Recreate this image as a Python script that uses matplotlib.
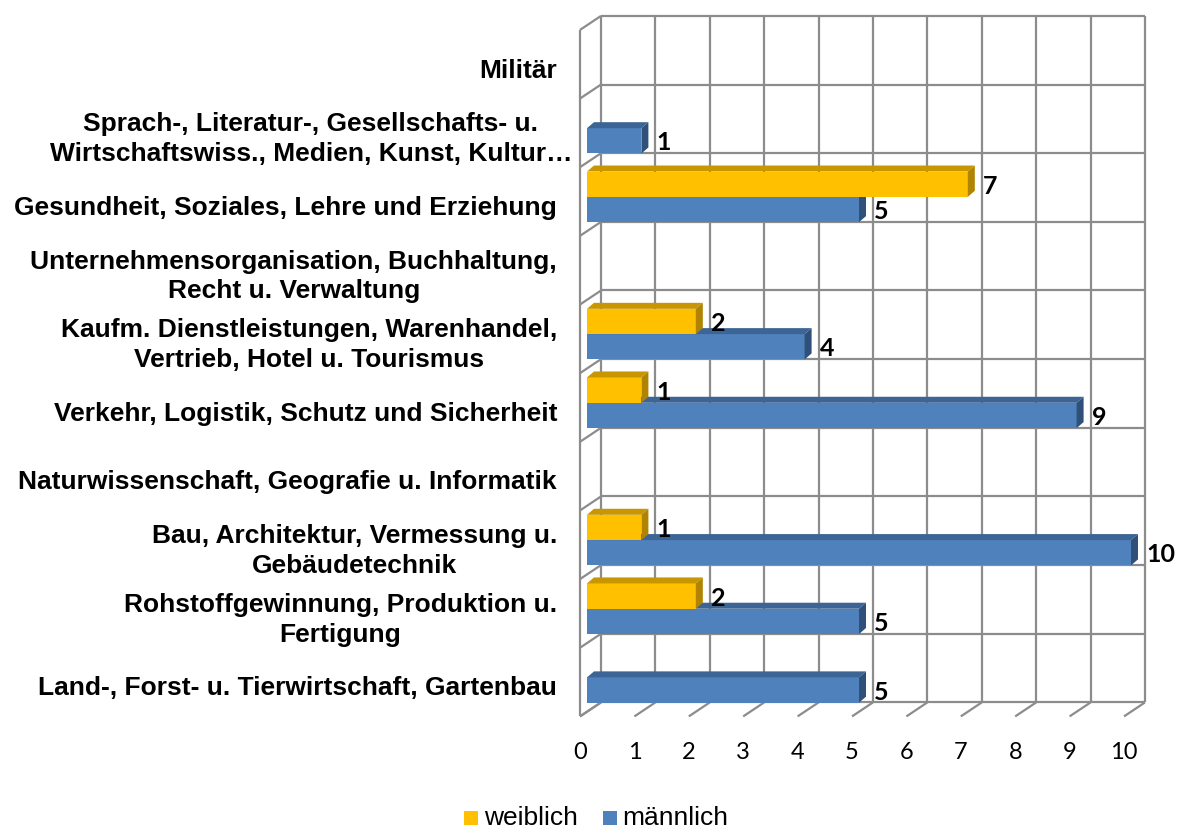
import matplotlib
matplotlib.use("Agg")
import matplotlib.pyplot as plt
from matplotlib.patches import Polygon

# categories, bottom to top (as drawn)
categories = [
    "Land-, Forst- u. Tierwirtschaft, Gartenbau",
    "Rohstoffgewinnung, Produktion u.\nFertigung",
    "Bau, Architektur, Vermessung u.\nGebäudetechnik",
    "Naturwissenschaft, Geografie u. Informatik",
    "Verkehr, Logistik, Schutz und Sicherheit",
    "Kaufm. Dienstleistungen, Warenhandel,\nVertrieb, Hotel u. Tourismus",
    "Unternehmensorganisation, Buchhaltung,\nRecht u. Verwaltung",
    "Gesundheit, Soziales, Lehre und Erziehung",
    "Sprach-, Literatur-, Gesellschafts- u.\nWirtschaftswiss., Medien, Kunst, Kultur…",
    "Militär",
]
weiblich = [0, 2, 1, 0, 1, 2, 0, 7, 0, 0]
maennlich = [5, 5, 10, 0, 9, 4, 0, 5, 1, 0]
ticks = list(range(0, 11))

W, H = 1177, 830
fig = plt.figure(figsize=(W / 100, H / 100), dpi=100)
# axes = plane of the bar front faces (pixel box)
x0, x1 = 587, 1131
y0, y1 = 25.2, 711.7
ax = fig.add_axes([x0 / W, 1 - y1 / H, (x1 - x0) / W, (y1 - y0) / H])
ax.set_xlim(0, 10)
ax.set_ylim(-0.5, 9.5)
ax.axis("off")

sx = (x1 - x0) / 10.0          # px per value unit
sy = (y1 - y0) / 10.0          # px per category

def px(dx, dy):
    return dx / sx, dy / sy

grid = "#8c8c8c"
bx, by = px(14, 9.3)     # back wall offset
fx, fy = px(-7, -4.7)    # front edge offset
kw = dict(color=grid, lw=1.6, clip_on=False, zorder=1, solid_capstyle="butt")

# back wall
for v in ticks:
    ax.plot([v + bx, v + bx], [-0.5 + by, 9.5 + by], **kw)
for i in range(11):
    y = i - 0.5
    ax.plot([0 + bx, 10 + bx], [y + by, y + by], **kw)
    # left wall diagonals
    ax.plot([fx, bx], [y + fy, y + by], **kw)
# left wall front edge
ax.plot([fx, fx], [-0.5 + fy, 9.5 + fy], **kw)
# floor diagonals + tick labels
for v in ticks:
    ax.plot([v + fx, v + bx], [-0.5 + fy, -0.5 + by], **kw)
    ax.annotate(str(v), (v + fx, -0.5 + fy), xytext=(0, -26),
                textcoords="offset points", ha="center", va="center",
                fontsize=17, family="Lato", annotation_clip=False)

bh = 25.3 / sy
ddx, ddy = px(7, 6)

def bar3d(v, ylo, front, top, side):
    if v <= 0:
        return
    yhi = ylo + bh
    ax.add_patch(Polygon([(0, ylo), (v, ylo), (v, yhi), (0, yhi)],
                         closed=True, fc=front, ec="none", zorder=3, clip_on=False))
    ax.add_patch(Polygon([(0, yhi), (v, yhi), (v + ddx, yhi + ddy), (ddx, yhi + ddy)],
                         closed=True, fc=top, ec="none", zorder=3, clip_on=False))
    ax.add_patch(Polygon([(v, ylo), (v + ddx, ylo + ddy), (v + ddx, yhi + ddy), (v, yhi)],
                         closed=True, fc=side, ec="none", zorder=3, clip_on=False))

for i, (w, m) in enumerate(zip(weiblich, maennlich)):
    bar3d(m, i - bh, "#4f81bd", "#3c6494", "#2f5078")
    bar3d(w, i, "#ffc000", "#c89600", "#b08400")

for i, (w, m) in enumerate(zip(weiblich, maennlich)):
    if m > 0:
        ax.annotate(str(m), (m, i - bh / 2), xytext=(11, -1.5),
                    textcoords="offset points", ha="left", va="center",
                    fontsize=18, fontweight="bold", family="Lato",
                    annotation_clip=False, zorder=5)
    if w > 0:
        ax.annotate(str(w), (w, i + bh / 2), xytext=(11, -1.5),
                    textcoords="offset points", ha="left", va="center",
                    fontsize=18, fontweight="bold", family="Lato",
                    annotation_clip=False, zorder=5)

# category labels
for i, lab in enumerate(categories):
    shift = 15 if lab.endswith("…") else 0   # truncated label overhangs
    ax.annotate(lab, (0, i), xytext=((-30 + shift) / 1.389, -11 / 1.389),
                textcoords="offset points", ha="right", va="center",
                multialignment="center", fontsize=19, fontweight="bold",
                family="Liberation Sans", linespacing=1.3,
                annotation_clip=False)

# legend
fig.patches.append(plt.Rectangle((464 / W, 1 - 825 / H), 14 / W, 14 / H,
                                 transform=fig.transFigure, fc="#ffc000", ec="none"))
fig.text(484 / W, 1 - 818 / H, "weiblich", ha="left", va="center",
         fontsize=19, family="Liberation Sans")
fig.patches.append(plt.Rectangle((603 / W, 1 - 825 / H), 14 / W, 14 / H,
                                 transform=fig.transFigure, fc="#4f81bd", ec="none"))
fig.text(622 / W, 1 - 818 / H, "männlich", ha="left", va="center",
         fontsize=19, family="Liberation Sans")

fig.savefig("out.png", dpi=100)
